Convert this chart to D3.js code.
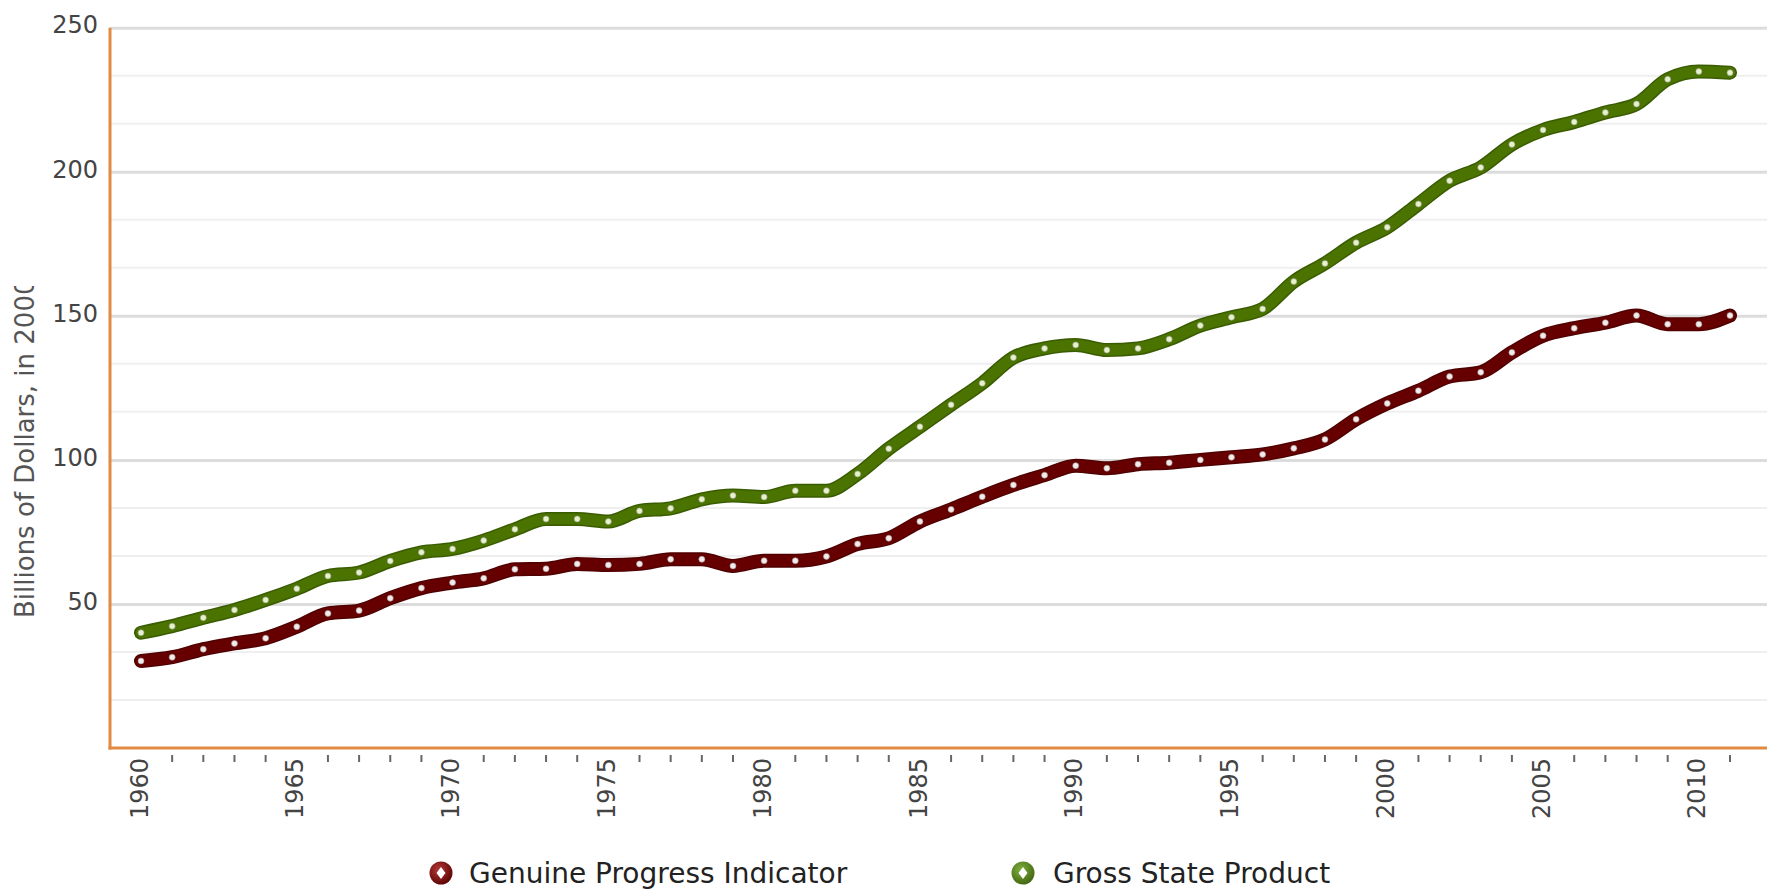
<!DOCTYPE html>
<html>
<head>
<meta charset="utf-8">
<script src="https://cdn.jsdelivr.net/npm/d3@7"></script>
<style>
  body { margin: 0; background: #fff; }
  svg { display: block; font-family: "DejaVu Sans", sans-serif; }
</style>
</head>
<body>
<div id="chart"></div>
<script>
// years on the x axis
var YEARS = [1960, 1961, 1962, 1963, 1964, 1965, 1966, 1967, 1968, 1969,
    1970, 1971, 1972, 1973, 1974, 1975, 1976, 1977, 1978, 1979,
    1980, 1981, 1982, 1983, 1984, 1985, 1986, 1987, 1988, 1989,
    1990, 1991, 1992, 1993, 1994, 1995, 1996, 1997, 1998, 1999,
    2000, 2001, 2002, 2003, 2004, 2005, 2006, 2007, 2008, 2009,
    2010, 2011];
// Genuine Progress Indicator, billions of dollars
var GPI = [30.2, 31.5, 34.3, 36.3, 38.1, 42.1, 46.7, 47.7, 52.0, 55.5,
    57.4, 58.9, 62.0, 62.2, 63.9, 63.5, 63.9, 65.5, 65.5, 63.2,
    65.0, 65.0, 66.5, 70.8, 72.8, 78.6, 82.8, 87.2, 91.3, 94.7,
    98.0, 97.1, 98.5, 99.0, 100.0, 100.9, 101.9, 104.0, 107.1, 114.1,
    119.6, 124.0, 128.9, 130.4, 137.3, 143.1, 145.7, 147.6, 150.1, 147.1,
    147.1, 150.1];
// Gross State Product, billions of dollars
var GSP = [40.0, 42.3, 45.2, 47.9, 51.4, 55.3, 59.7, 60.9, 64.9, 67.9,
    69.1, 72.0, 75.9, 79.5, 79.5, 78.6, 82.3, 83.2, 86.3, 87.6,
    87.1, 89.3, 89.3, 95.1, 103.9, 111.5, 119.1, 126.6, 135.5, 138.7,
    139.9, 138.1, 138.7, 141.9, 146.6, 149.5, 152.4, 161.9, 168.2, 175.4,
    180.7, 188.8, 196.9, 201.5, 209.5, 214.5, 217.3, 220.6, 223.5, 232.1,
    234.8, 234.4];
// labelled ticks
var Y_TICKS = [50, 100, 150, 200, 250];
var X_LABELS = [1960, 1965, 1970, 1975, 1980, 1985, 1990, 1995, 2000, 2005, 2010];
var SERIES_NAMES = ["Genuine Progress Indicator", "Gross State Product"];
var Y_TITLE = "Billions of Dollars, in 2000";

function drawChart() {
    var W = 1772, H = 892;
    var left = 110, right = 1767, top = 27.7, bottom = 748;

    var svg = d3.select("#chart").append("svg")
        .attr("width", W)
        .attr("height", H);

    var x = d3.scaleLinear()
        .domain([1960, 2011])
        .range([141, 1730]);
    var y = d3.scaleLinear()
        .domain([0, 250])
        .range([bottom, top]);

    // minor grid lines (thirds between major ticks)
    var minor = d3.range(1, 15).map(function (i) { return i * 50 / 3; })
        .filter(function (v) { return Math.abs(v % 50) > 1 && Math.abs(v % 50 - 50) > 1; });
    svg.append("g").selectAll("line")
        .data(minor)
        .enter().append("line")
        .attr("x1", left).attr("x2", right)
        .attr("y1", function (d) { return y(d); })
        .attr("y2", function (d) { return y(d); })
        .attr("stroke", "#efefef")
        .attr("stroke-width", 2);

    // major grid lines + y labels
    var yAxis = svg.append("g")
        .attr("transform", "translate(" + left + ",0)")
        .call(d3.axisLeft(y).tickValues(Y_TICKS).tickSize(-(right - left)).tickPadding(12));
    yAxis.select(".domain").remove();
    yAxis.selectAll(".tick line")
        .attr("stroke", "#dcdcdc")
        .attr("stroke-width", 3);
    yAxis.selectAll(".tick text")
        .attr("fill", "#444")
        .attr("font-size", "24px")
        .attr("font-family", "DejaVu Sans, sans-serif")
        .attr("dy", "0.22em");

    // x axis ticks (unlabelled years)
    var smallYears = YEARS.filter(function (d) { return X_LABELS.indexOf(d) < 0; });
    svg.append("g").selectAll("line")
        .data(smallYears)
        .enter().append("line")
        .attr("x1", function (d) { return x(d); })
        .attr("x2", function (d) { return x(d); })
        .attr("y1", 755).attr("y2", 762)
        .attr("stroke", "#666")
        .attr("stroke-width", 2);

    // x axis labels, rotated
    svg.append("g").selectAll("text")
        .data(X_LABELS)
        .enter().append("text")
        .attr("transform", function (d) { return "translate(" + (x(d) - 2) + ",758) rotate(-90)"; })
        .attr("text-anchor", "end")
        .attr("dy", "0.36em")
        .attr("font-size", "24px")
        .attr("fill", "#444")
        .text(function (d) { return d; });

    // orange axis lines
    svg.append("line")
        .attr("x1", left).attr("x2", left)
        .attr("y1", top).attr("y2", bottom + 1.5)
        .attr("stroke", "#e38a42").attr("stroke-width", 3);
    svg.append("line")
        .attr("x1", left - 1.5).attr("x2", right)
        .attr("y1", bottom).attr("y2", bottom)
        .attr("stroke", "#e38a42").attr("stroke-width", 3);

    // y axis title, clipped like the original
    svg.append("clipPath").attr("id", "title-clip")
        .append("rect").attr("x", 0).attr("y", 286).attr("width", 60).attr("height", 400);
    svg.append("g").attr("clip-path", "url(#title-clip)")
        .append("text")
        .attr("transform", "translate(25,618) rotate(-90)")
        .attr("text-anchor", "start")
        .attr("dy", "0.36em")
        .attr("font-size", "26px")
        .attr("fill", "#555")
        .text(Y_TITLE);

    // lines
    var series = [
        { name: SERIES_NAMES[0], values: GPI, color: "#660000", edge: "#500000", dot: "#f4eaea" },
        { name: SERIES_NAMES[1], values: GSP, color: "#4b7300", edge: "#3a5c00", dot: "#e6f2c8" }
    ];
    var line = d3.line()
        .x(function (d, i) { return x(YEARS[i]); })
        .y(function (d) { return y(d); })
        .curve(d3.curveMonotoneX);

    series.forEach(function (s) {
        var g = svg.append("g");
        g.append("path")
            .attr("d", line(s.values))
            .attr("fill", "none")
            .attr("stroke", s.edge)
            .attr("stroke-width", 14)
            .attr("stroke-linecap", "round")
            .attr("stroke-linejoin", "round");
        g.append("path")
            .attr("d", line(s.values))
            .attr("fill", "none")
            .attr("stroke", s.color)
            .attr("stroke-width", 11)
            .attr("stroke-linecap", "round")
            .attr("stroke-linejoin", "round");
        g.selectAll("circle")
            .data(s.values)
            .enter().append("circle")
            .attr("cx", function (d, i) { return x(YEARS[i]); })
            .attr("cy", function (d) { return y(d); })
            .attr("r", 3)
            .attr("fill", s.dot)
            .attr("stroke", "#999")
            .attr("stroke-width", 0.6);
    });

    // legend
    var defs = svg.append("defs");
    var legendItems = [
        { name: SERIES_NAMES[0], cx: 441, tx: 469, c1: "#b23a3a", c2: "#5a0000" },
        { name: SERIES_NAMES[1], cx: 1023, tx: 1053, c1: "#7fae3c", c2: "#3f6410" }
    ];
    legendItems.forEach(function (d, i) {
        var grad = defs.append("radialGradient").attr("id", "lg" + i)
            .attr("cx", "40%").attr("cy", "35%").attr("r", "70%");
        grad.append("stop").attr("offset", "0%").attr("stop-color", d.c1);
        grad.append("stop").attr("offset", "100%").attr("stop-color", d.c2);
        var g = svg.append("g").attr("transform", "translate(" + d.cx + ",873)");
        g.append("circle").attr("r", 11.5).attr("fill", "url(#lg" + i + ")");
        g.append("path")
            .attr("d", "M0,-6 L4.5,0 L0,6 L-4.5,0 Z")
            .attr("fill", "#fff");
        svg.append("text")
            .attr("x", d.tx).attr("y", 873)
            .attr("dy", "0.36em")
            .attr("font-size", "28px")
            .attr("fill", "#222")
            .text(d.name);
    });
}

window.onload = drawChart;
</script>
</body>
</html>
